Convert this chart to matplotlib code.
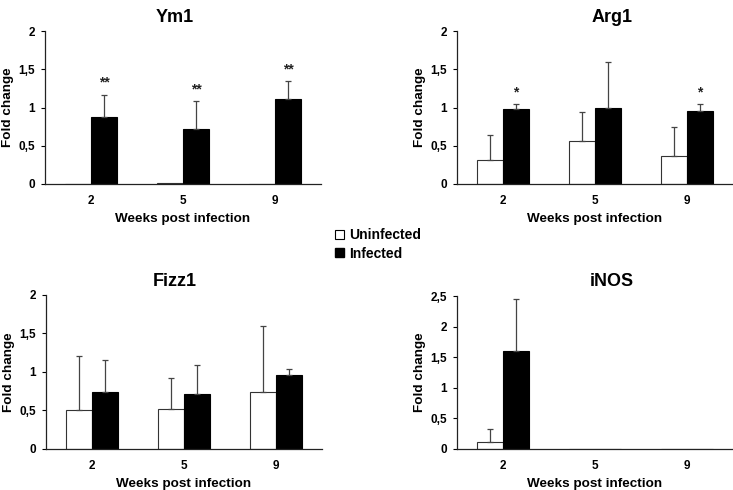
import matplotlib.pyplot as plt
from matplotlib.patches import Patch
import numpy as np

plt.rcParams['font.family'] = ['Liberation Sans', 'DejaVu Sans']
plt.rcParams['font.weight'] = 'bold'

# datos
semanas = ["2", "5", "9"]

ym1_no = [0.003, 0.01, 0.0]
ym1_no_err = [0.0, 0.0, 0.0]
ym1_si = [0.87, 0.72, 1.11]
ym1_si_err = [0.30, 0.36, 0.24]
ym1_sig = ["**", "**", "**"]

arg1_no = [0.31, 0.56, 0.36]
arg1_no_err = [0.33, 0.38, 0.38]
arg1_si = [0.98, 0.99, 0.96]
arg1_si_err = [0.06, 0.60, 0.09]
arg1_sig = ["*", "", "*"]

fizz1_no = [0.50, 0.52, 0.74]
fizz1_no_err = [0.71, 0.40, 0.86]
fizz1_si = [0.74, 0.71, 0.96]
fizz1_si_err = [0.41, 0.38, 0.075]
fizz1_sig = ["", "", ""]

inos_no = [0.12, 0.0, 0.0]
inos_no_err = [0.21, 0.0, 0.0]
inos_si = [1.60, 0.0, 0.0]
inos_si_err = [0.85, 0.0, 0.0]
inos_sig = ["", "", ""]

paneles = [
    ("Ym1", ym1_no, ym1_no_err, ym1_si, ym1_si_err, ym1_sig, 2.0, [0, 0.5, 1, 1.5, 2], ["0", "0,5", "1", "1,5", "2"]),
    ("Arg1", arg1_no, arg1_no_err, arg1_si, arg1_si_err, arg1_sig, 2.0, [0, 0.5, 1, 1.5, 2], ["0", "0,5", "1", "1,5", "2"]),
    ("Fizz1", fizz1_no, fizz1_no_err, fizz1_si, fizz1_si_err, fizz1_sig, 2.0, [0, 0.5, 1, 1.5, 2], ["0", "0,5", "1", "1,5", "2"]),
    ("iNOS", inos_no, inos_no_err, inos_si, inos_si_err, inos_sig, 2.5, [0, 0.5, 1, 1.5, 2, 2.5], ["0", "0,5", "1", "1,5", "2", "2,5"]),
]

# posiciones de los ejes (left, bottom, width, height)
posiciones = [
    [0.0614, 0.6245, 0.3765, 0.3122],
    [0.6235, 0.6245, 0.3765, 0.3122],
    [0.0628, 0.0837, 0.3765, 0.3143],
    [0.6235, 0.0837, 0.3765, 0.3122],
]
titulos_x = [0.239, 0.835, 0.239, 0.835]
titulos_y = [0.965, 0.965, 0.425, 0.425]

fig = plt.figure(figsize=(7.33, 4.90), dpi=100)
w = 0.283
x = np.arange(len(semanas))

for i, (nombre, no, no_err, si, si_err, sig, ymax, yt, ytl) in enumerate(paneles):
    ax = fig.add_axes(posiciones[i])
    ax.bar(x, no, width=-w, align='edge', color='white', edgecolor='#333333', linewidth=0.8)
    ax.bar(x, si, width=w, align='edge', color='black', edgecolor='black', linewidth=0.8)
    for j in range(len(semanas)):
        if no_err[j] > 0:
            ax.errorbar(x[j] - w / 2, no[j], yerr=[[0], [no_err[j]]], color='#444444',
                        elinewidth=0.9, capsize=2.5, capthick=0.9)
        if si_err[j] > 0:
            ax.errorbar(x[j] + w / 2, si[j], yerr=[[0], [si_err[j]]], color='#444444',
                        elinewidth=0.9, capsize=2.5, capthick=0.9)
        if sig[j]:
            ax.text(x[j] + w / 2, si[j] + si_err[j] + 0.06, sig[j], ha='center', va='bottom',
                    fontsize=10, fontweight='bold', color='#222222')
    ax.set_xlim(-0.5, 2.5)
    ax.set_ylim(0, ymax)
    ax.set_yticks(yt)
    ax.set_yticklabels(ytl)
    ax.set_xticks(x)
    ax.set_xticklabels(semanas)
    ax.tick_params(axis='x', length=0, pad=8, labelsize=8.5)
    ax.tick_params(axis='y', length=3, width=0.8, direction='out', pad=4, labelsize=8.5)
    for s in ['top', 'right']:
        ax.spines[s].set_visible(False)
    for s in ['left', 'bottom']:
        ax.spines[s].set_linewidth(0.9)
        ax.spines[s].set_color('#222222')
    ax.set_ylabel('Fold change', fontsize=9.7, fontweight='bold', labelpad=3.5)
    ax.set_xlabel('Weeks post infection', fontsize=9.7, fontweight='bold', labelpad=4.5)
    ax.patch.set_alpha(0)
    fig.text(titulos_x[i], titulos_y[i], nombre, ha='center', va='center', fontsize=13, fontweight='bold')

handles = [Patch(facecolor='white', edgecolor='black', linewidth=0.8),
           Patch(facecolor='black', edgecolor='black')]
fig.legend(handles, ['Uninfected', 'Infected'], loc='center left', bbox_to_anchor=(0.44, 0.501),
           frameon=False, handlelength=0.65, handleheight=0.65, handletextpad=0.4,
           labelspacing=0.3, prop={'size': 10, 'weight': 'bold'})

plt.savefig('out.png', dpi=100)
